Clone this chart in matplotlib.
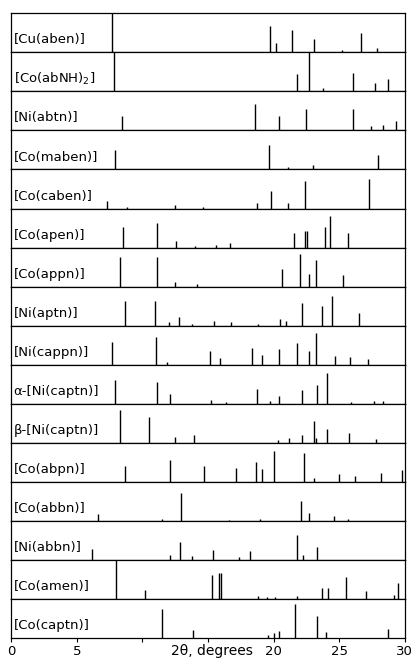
import matplotlib
matplotlib.use("Agg")
import matplotlib.pyplot as plt

# ── Données : positions 2θ (degrés) et intensités relatives ──────────────────
labels = ["[Cu(aben)]", "[Co(abNH)$_2$]", "[Ni(abtn)]", "[Co(maben)]",
          "[Co(caben)]", "[Co(apen)]", "[Co(appn)]", "[Ni(aptn)]",
          "[Ni(cappn)]", "α-[Ni(captn)]", "β-[Ni(captn)]", "[Co(abpn)]",
          "[Co(abbn)]", "[Ni(abbn)]", "[Co(amen)]", "[Co(captn)]"]

cu_aben_2t = [7.69, 19.74, 20.17, 21.37, 23.08, 25.23, 26.67, 27.87]
cu_aben_i  = [1.00, 0.67, 0.25, 0.56, 0.35, 0.05, 0.50, 0.12]

co_abnh2_2t = [7.84, 21.81, 22.70, 23.77, 26.03, 27.69, 28.74]
co_abnh2_i  = [1.00, 0.45, 1.00, 0.09, 0.47, 0.21, 0.33]

ni_abtn_2t = [8.41, 18.58, 20.40, 22.44, 26.02, 27.39, 28.32, 29.29]
ni_abtn_i  = [0.38, 0.67, 0.37, 0.54, 0.54, 0.12, 0.13, 0.25]

co_maben_2t = [7.90, 19.61, 21.11, 23.01, 27.97]
co_maben_i  = [0.50, 0.62, 0.06, 0.11, 0.37]

co_caben_2t = [7.31, 8.86, 12.51, 14.60, 18.75, 19.82, 21.11, 22.40, 27.30]
co_caben_i  = [0.20, 0.05, 0.08, 0.03, 0.13, 0.46, 0.15, 0.70, 0.75]

co_apen_2t = [8.53, 11.14, 12.58, 13.97, 15.57, 16.68, 21.56, 22.42, 22.55,
              23.92, 24.27, 25.69]
co_apen_i  = [0.54, 0.64, 0.17, 0.04, 0.07, 0.13, 0.37, 0.43, 0.43,
              0.54, 0.80, 0.37]

co_appn_2t = [8.33, 11.11, 12.45, 14.15, 20.65, 22.04, 22.70, 23.21, 25.28]
co_appn_i  = [0.75, 0.77, 0.11, 0.07, 0.45, 0.84, 0.33, 0.68, 0.29]

ni_aptn_2t = [8.71, 10.99, 12.02, 12.76, 13.80, 15.44, 16.76, 18.78, 20.50,
              20.93, 22.19, 23.65, 24.47, 26.48]
ni_aptn_i  = [0.64, 0.64, 0.09, 0.21, 0.05, 0.13, 0.09, 0.04, 0.18,
              0.13, 0.58, 0.51, 0.75, 0.32]

ni_cappn_2t = [7.72, 11.06, 11.87, 15.15, 15.91, 18.34, 19.08, 20.40, 21.79,
               22.70, 23.21, 24.68, 25.82, 27.20]
ni_cappn_i  = [0.58, 0.70, 0.06, 0.34, 0.16, 0.44, 0.25, 0.39, 0.55,
               0.36, 0.82, 0.23, 0.19, 0.14]

a_ni_captn_2t = [7.90, 11.14, 12.13, 15.24, 16.38, 18.73, 19.74, 20.37, 22.19,
                 23.33, 24.09, 25.87, 27.66, 28.30]
a_ni_captn_i  = [0.60, 0.56, 0.26, 0.10, 0.05, 0.39, 0.07, 0.21, 0.35,
                 0.47, 0.80, 0.05, 0.06, 0.08]

b_ni_captn_2t = [8.33, 10.50, 12.45, 13.92, 20.35, 21.18, 22.19, 23.06, 23.21,
                 24.07, 25.74, 27.77]
b_ni_captn_i  = [0.84, 0.67, 0.15, 0.21, 0.07, 0.13, 0.20, 0.57, 0.12,
                 0.36, 0.26, 0.11]

co_abpn_2t = [8.66, 12.10, 14.71, 17.14, 18.66, 19.13, 20.05, 22.35, 23.08,
              25.00, 26.17, 28.16, 29.79]
co_abpn_i  = [0.40, 0.55, 0.40, 0.35, 0.50, 0.33, 0.80, 0.75, 0.10,
              0.20, 0.15, 0.23, 0.30]

co_abbn_2t = [6.58, 11.49, 12.91, 16.63, 18.96, 22.07, 22.70, 24.60, 25.64]
co_abbn_i  = [0.17, 0.04, 0.71, 0.03, 0.04, 0.50, 0.20, 0.12, 0.05]

ni_abbn_2t = [6.17, 12.13, 12.83, 13.80, 15.36, 17.39, 18.20, 21.77, 22.27, 23.31]
ni_abbn_i  = [0.27, 0.12, 0.45, 0.11, 0.26, 0.08, 0.22, 0.65, 0.12, 0.33]

co_amen_2t = [7.97, 10.17, 15.32, 15.83, 16.01, 18.83, 19.51, 20.12, 21.75,
              23.71, 24.12, 25.51, 27.01, 29.16, 29.48]
co_amen_i  = [1.00, 0.22, 0.62, 0.66, 0.66, 0.08, 0.04, 0.04, 0.08,
              0.29, 0.29, 0.57, 0.21, 0.10, 0.41]

co_captn_2t = [11.52, 13.82, 19.54, 20.05, 20.37, 21.64, 23.29, 23.97, 28.68]
co_captn_i  = [0.74, 0.21, 0.08, 0.13, 0.17, 0.86, 0.57, 0.15, 0.24]

patterns = [(cu_aben_2t, cu_aben_i), (co_abnh2_2t, co_abnh2_i),
            (ni_abtn_2t, ni_abtn_i), (co_maben_2t, co_maben_i),
            (co_caben_2t, co_caben_i), (co_apen_2t, co_apen_i),
            (co_appn_2t, co_appn_i), (ni_aptn_2t, ni_aptn_i),
            (ni_cappn_2t, ni_cappn_i), (a_ni_captn_2t, a_ni_captn_i),
            (b_ni_captn_2t, b_ni_captn_i), (co_abpn_2t, co_abpn_i),
            (co_abbn_2t, co_abbn_i), (ni_abbn_2t, ni_abbn_i),
            (co_amen_2t, co_amen_i), (co_captn_2t, co_captn_i)]

# ── Figure ────────────────────────────────────────────────────────────────────
fig, axes = plt.subplots(len(labels), 1, figsize=(4.14, 6.66), dpi=100, sharex=True)
fig.subplots_adjust(left=0.027, right=0.978, top=0.980, bottom=0.042, hspace=0)

for ax, lab, (pos, inten) in zip(axes, labels, patterns):
    ax.vlines(pos, 0, inten, color="black", lw=1.0)
    ax.set_ylim(0, 1)
    ax.set_yticks([])
    ax.text(0.006, 0.32, lab, transform=ax.transAxes, fontsize=9.5,
            va="center", ha="left")
    for s in ax.spines.values():
        s.set_linewidth(0.9)
    ax.tick_params(axis="x", length=0)

ax = axes[-1]
ax.set_xlim(0, 30)
ax.set_xticks([0, 5, 10, 15, 20, 25, 30])
ax.set_xticklabels(["0", "5", "", "", "20", "25", "30"], fontsize=9.5)
ax.tick_params(axis="x", length=3, direction="out", pad=2)
ax.set_xlabel("2θ, degrees", fontsize=10)
ax.xaxis.set_label_coords(0.51, -0.16)

plt.savefig("out.png", dpi=100)
